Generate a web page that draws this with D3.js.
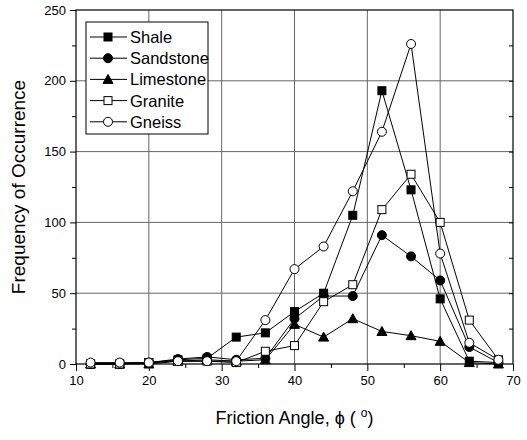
<!DOCTYPE html>
<html><head><meta charset="utf-8">
<script src="https://cdn.jsdelivr.net/npm/d3@7"></script>
<style>body{margin:0;background:#fff}svg{display:block}text{font-family:"Liberation Sans",Arial,sans-serif;fill:#000}</style>
</head><body>
<svg id="c" width="527" height="440"></svg>
<script>
const angles = [12,16,20,24,28,32,36,40,44,48,52,56,60,64,68];
const shale     = [0,0,1,3,4,19,22,37,50,105,193,123,46,2,1];
const sandstone = [0,0,1,3.5,5,3,4,32,48,48,91,76,59,12,1];
const limestone = [0,0,0,2,3,2,3,28,19,32,23,20,16,1,0];
const granite   = [0,0,1,2,2,1,9,13,44,56,109,134,100,31,3];
const gneiss    = [1,1,1,2,2,2,31,67,83,122,164,226,78,15,3];
const seriesNames = ["Shale","Sandstone","Limestone","Granite","Gneiss"];
const seriesValues = [shale,sandstone,limestone,granite,gneiss];
const markerKinds = ["square","circle","triangle","square","circle"];
const markerFilled = [true,true,true,false,false];
const xTicks = [10,20,30,40,50,60,70];
const yTicks = [0,50,100,150,200,250];

const svg = d3.select("#c");
const L=76,R=513,T=10,B=364;
const x = d3.scaleLinear().domain([10,70]).range([L,R]);
const y = d3.scaleLinear().domain([0,250]).range([B,T]);

// gridlines
const g = svg.append("g");
g.selectAll(".vg").data(xTicks.slice(1,-1)).join("line")
 .attr("x1",d=>x(d)).attr("x2",d=>x(d)).attr("y1",T).attr("y2",B)
 .attr("stroke","#666").attr("stroke-width",1);
g.selectAll(".hg").data(yTicks.slice(1,-1)).join("line")
 .attr("x1",L).attr("x2",R).attr("y1",d=>y(d)).attr("y2",d=>y(d))
 .attr("stroke","#666").attr("stroke-width",1);

// frame
svg.append("rect").attr("x",L).attr("y",T).attr("width",R-L).attr("height",B-T)
 .attr("fill","none").attr("stroke","#000").attr("stroke-width",1.2);

// axes
const xAxis = d3.axisBottom(x).tickValues(xTicks).tickSize(7).tickPadding(5);
const gx = svg.append("g").attr("transform",`translate(0,${B})`).call(xAxis);
gx.select(".domain").remove();
gx.selectAll("text").style("font-size","13px");
const xMinor = d3.axisBottom(x).tickValues(d3.range(15,70,10)).tickSize(4).tickFormat("");
svg.append("g").attr("transform",`translate(0,${B})`).call(xMinor).select(".domain").remove();

const yAxis = d3.axisLeft(y).tickValues(yTicks).tickSize(6).tickPadding(4);
const gy = svg.append("g").attr("transform",`translate(${L},0)`).call(yAxis);
gy.select(".domain").remove();
gy.selectAll("text").style("font-size","13px");
const yMinor = d3.axisLeft(y).tickValues(d3.range(25,250,50)).tickSize(4).tickFormat("");
svg.append("g").attr("transform",`translate(${L},0)`).call(yMinor).select(".domain").remove();
const yRight = d3.axisLeft(y).tickValues(d3.range(25,250,25)).tickSize(4).tickFormat("");
svg.append("g").attr("transform",`translate(${R},0)`).call(yRight).select(".domain").remove();

// titles
svg.append("text").attr("x",(L+R)/2).attr("y",424).attr("text-anchor","middle")
 .style("font-size","18px")
 .html('Friction Angle, \u03D5 ( <tspan dy="-7" font-size="12px">o</tspan><tspan dy="7">)</tspan>');
svg.append("text").attr("transform",`translate(25,${(T+B)/2}) rotate(-90)`)
 .attr("text-anchor","middle").style("font-size","19px").text("Frequency of Occurrence");

function drawMarker(sel, kind, filled){
  const fill = filled ? "#000" : "#fff";
  if(kind==="square") sel.append("rect").attr("x",-4).attr("y",-4).attr("width",8).attr("height",8)
     .attr("fill",fill).attr("stroke","#000").attr("stroke-width",1);
  else if(kind==="circle") sel.append("circle").attr("r",4.5).attr("fill",fill).attr("stroke","#000").attr("stroke-width",1);
  else sel.append("path").attr("d","M0,-5L5,4L-5,4Z").attr("fill",fill).attr("stroke","#000").attr("stroke-width",1);
}

const line = d3.line().x((d,i)=>x(angles[i])).y(d=>y(d));
seriesValues.forEach((vals,si)=>{
  svg.append("path").datum(vals).attr("d",line).attr("fill","none").attr("stroke","#000").attr("stroke-width",1);
});
seriesValues.forEach((vals,si)=>{
  svg.append("g").selectAll("g").data(vals).join("g")
   .attr("transform",(d,i)=>`translate(${x(angles[i])},${y(d)})`)
   .each(function(){ drawMarker(d3.select(this), markerKinds[si], markerFilled[si]); });
});

// legend
const lg = svg.append("g");
lg.append("rect").attr("x",86).attr("y",22).attr("width",122).attr("height",112)
 .attr("fill","#fff").attr("stroke","#000").attr("stroke-width",1);
seriesNames.forEach((n,i)=>{
  const yy = 37 + i*21.2;
  const e = lg.append("g").attr("transform",`translate(0,${yy})`);
  e.append("line").attr("x1",90).attr("x2",127).attr("y1",0).attr("y2",0).attr("stroke","#000");
  const m = e.append("g").attr("transform","translate(108,0)");
  drawMarker(m, markerKinds[i], markerFilled[i]);
  e.append("text").attr("x",130).attr("y",6).style("font-size","16.5px").text(n);
});
</script>
</body></html>
